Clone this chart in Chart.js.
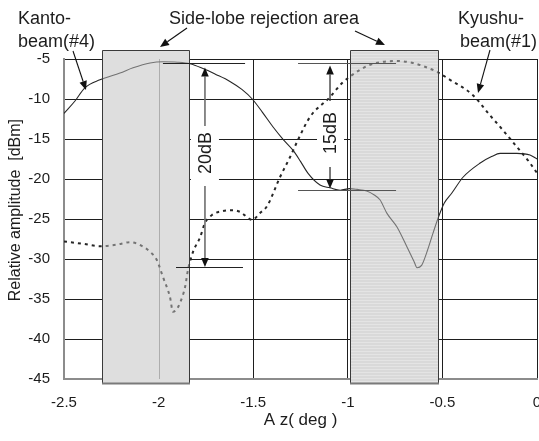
<!DOCTYPE html>
<html><head><meta charset="utf-8">
<script src="https://cdn.jsdelivr.net/npm/chart.js@4/dist/chart.umd.min.js"></script>
<style>html,body{margin:0;padding:0;background:#fff;overflow:hidden}canvas{display:block}</style>
</head><body>
<canvas id="c" width="539" height="441"></canvas>
<script>
// ---- data ----
const kantoAz = [-2.5,-2.442,-2.39,-2.31,-2.204,-2.135,-2.045,-1.977,-1.9,-1.834,-1.765,-1.7,-1.623,-1.56,-1.505,-1.45,-1.395,-1.34,-1.29,-1.25,-1.21,-1.147,-1.094,-1.04,-0.99,-0.95,-0.9,-0.86,-0.83,-0.793,-0.74,-0.687,-0.65,-0.634,-0.61,-0.58,-0.55,-0.523,-0.49,-0.45,-0.39,-0.3,-0.24,-0.195,-0.106,-0.037,0];
const kantoDb = [-11.8,-10.25,-8.6,-7.6,-6.75,-6.1,-5.5,-5.35,-5.4,-5.6,-6.2,-6.9,-7.8,-8.8,-10.0,-11.7,-13.5,-15.1,-16.4,-17.8,-19.3,-20.75,-21.1,-21.4,-21.2,-21.3,-21.5,-22.0,-22.6,-24.3,-26.0,-28.5,-30.3,-31.1,-30.8,-29.0,-26.8,-24.9,-23.0,-21.75,-19.75,-18.0,-17.2,-16.8,-16.8,-17.0,-17.5];
const kyushuAz = [-2.5,-2.4,-2.31,-2.22,-2.15,-2.098,-2.045,-2.01,-1.977,-1.94,-1.924,-1.905,-1.887,-1.86,-1.845,-1.818,-1.78,-1.755,-1.718,-1.66,-1.607,-1.57,-1.505,-1.464,-1.427,-1.358,-1.305,-1.263,-1.2,-1.094,-1.03,-0.962,-0.9,-0.83,-0.74,-0.655,-0.6,-0.53,-0.46,-0.34,-0.25,-0.18,-0.106,-0.037,0];
const kyushuDb = [-27.8,-28.1,-28.4,-28.2,-27.9,-28.25,-29.1,-30.1,-32.25,-34.75,-36.6,-36.3,-35.5,-33.5,-31.4,-29.1,-27.25,-25.5,-24.5,-24.0,-23.9,-24.1,-25.1,-24.25,-23.4,-19.75,-17.25,-15.1,-12.25,-9.75,-8.0,-6.75,-5.9,-5.4,-5.25,-5.5,-5.9,-6.6,-7.6,-9.5,-12.0,-13.9,-16.0,-18.0,-19.25];
const xTicks = [-2.5,-2,-1.5,-1,-0.5,0];
const yTicks = [-5,-10,-15,-20,-25,-30,-35,-40,-45];
const rejectionAreas = [[-2.3,-1.84],[-0.988,-0.523]];
const levels20 = [-5.44,-31.0];
const levels15 = [-5.5,-21.4];

const FONT = '"Liberation Sans", Arial, sans-serif';
const INK = '#1c1c1c';

function arrow(ctx,x1,y1,x2,y2,lineColor,headColor,lw){
  const a=Math.atan2(y2-y1,x2-x1),L=9,W=3.8;
  const bx=x2-L*Math.cos(a),by=y2-L*Math.sin(a);
  ctx.strokeStyle=lineColor;ctx.lineWidth=lw;
  ctx.beginPath();ctx.moveTo(x1,y1);ctx.lineTo(bx,by);ctx.stroke();
  ctx.fillStyle=headColor;ctx.beginPath();ctx.moveTo(x2,y2);
  ctx.lineTo(bx+W*Math.sin(a),by-W*Math.cos(a));
  ctx.lineTo(bx-W*Math.sin(a),by+W*Math.cos(a));ctx.closePath();ctx.fill();
}
function hline(ctx,x1,x2,y,color,lw){ctx.strokeStyle=color;ctx.lineWidth=lw;ctx.beginPath();ctx.moveTo(x1,y);ctx.lineTo(x2,y);ctx.stroke();}

function stripePattern(ctx){
  const p=document.createElement('canvas');p.width=4;p.height=3;
  const c=p.getContext('2d');c.fillStyle='#d6d6d6';c.fillRect(0,0,4,3);
  c.fillStyle='#e9e9e9';c.fillRect(0,0,4,1);
  return ctx.createPattern(p,'repeat');
}

function boxRects(chart){
  const {x,y}=chart.scales;
  return rejectionAreas.map(([a,b])=>{
    const l=Math.round(x.getPixelForValue(a))+0.5, r=Math.round(x.getPixelForValue(b))+0.5;
    const t=Math.round(y.getPixelForValue(-3.9))+0.5, btm=Math.round(y.getPixelForValue(-45.6));
    return {l,r,t,b:btm};
  });
}

const annot = {
  id:'annot',
  beforeDatasetsDraw(chart){
    const {ctx,scales:{x,y}}=chart;
    const rs=boxRects(chart);
    ctx.save();
    ctx.fillStyle='#dedede';ctx.fillRect(rs[0].l,rs[0].t,rs[0].r-rs[0].l,rs[0].b-rs[0].t);
    ctx.fillStyle=stripePattern(ctx);ctx.fillRect(rs[1].l,rs[1].t,rs[1].r-rs[1].l,rs[1].b-rs[1].t);
    // grey grid line through the left box
    const gx=Math.round(x.getPixelForValue(-2))+0.5;
    ctx.strokeStyle='#8a8a8a';ctx.lineWidth=1;ctx.beginPath();
    ctx.moveTo(gx,y.getPixelForValue(-5));ctx.lineTo(gx,y.getPixelForValue(-45));ctx.stroke();
    // white backgrounds behind the dB labels
    ctx.fillStyle='#fff';
    const ax20=x.getPixelForValue(-1.755), ax15=x.getPixelForValue(-1.094);
    ctx.fillRect(ax20-14,126,28,56);
    ctx.fillRect(ax15-13,108,27,50);
    ctx.restore();
  },
  afterDatasetsDraw(chart){
    const {ctx,scales:{x,y}}=chart;
    const rs=boxRects(chart);
    ctx.save();
    // lighten curves inside the boxes and outline
    rs.forEach(r=>{
      ctx.fillStyle='rgba(222,222,222,0.42)';ctx.fillRect(r.l,r.t,r.r-r.l,r.b-r.t);
      ctx.strokeStyle='#3a3a3a';ctx.lineWidth=1;
      ctx.beginPath();ctx.moveTo(r.l,r.b);ctx.lineTo(r.l,r.t);ctx.lineTo(r.r,r.t);ctx.lineTo(r.r,r.b);ctx.stroke();
      hline(ctx,r.l-0.5,r.r+0.5,r.b-0.5,'#7a7a7a',2);
    });
    // 20 dB annotation
    const ax20=x.getPixelForValue(-1.755);
    const t20=Math.round(y.getPixelForValue(levels20[0]))+0.5, b20=Math.round(y.getPixelForValue(levels20[1]))+0.5;
    hline(ctx,x.getPixelForValue(-1.977),x.getPixelForValue(-1.543),t20,'#222',1.2);
    hline(ctx,x.getPixelForValue(-1.908),x.getPixelForValue(-1.554),b20,'#222',1.2);
    arrow(ctx,ax20,126,ax20,t20+4,'#6e6e6e','#111',1.6);
    arrow(ctx,ax20,186,ax20,b20-0.5,'#6e6e6e','#111',1.6);
    // 15 dB annotation
    const ax15=x.getPixelForValue(-1.094);
    const t15=Math.round(y.getPixelForValue(levels15[0]))+0.5, b15=Math.round(y.getPixelForValue(levels15[1]))+0.5;
    hline(ctx,x.getPixelForValue(-1.263),x.getPixelForValue(-0.745),t15,'#555',1.2);
    hline(ctx,x.getPixelForValue(-1.263),x.getPixelForValue(-0.745),b15,'#555',1.2);
    arrow(ctx,ax15,101,ax15,t15+2,'#333','#111',1.3);
    arrow(ctx,ax15,167,ax15,b15-2,'#333','#111',1.3);
    // rotated dB texts
    ctx.fillStyle=INK;ctx.font='18px '+FONT;ctx.textAlign='center';ctx.textBaseline='middle';
    [[ax20,153,'20dB'],[ax15,133,'15dB']].forEach(([px,py,s])=>{
      ctx.save();ctx.translate(px+1,py);ctx.rotate(-Math.PI/2);ctx.fillText(s,0,0);ctx.restore();
    });
    // callout texts
    ctx.textBaseline='alphabetic';ctx.textAlign='left';
    ctx.fillText('Kanto-',18,24);ctx.fillText('beam(#4)',18,47);
    ctx.fillText('Kyushu-',458,24);ctx.fillText('beam(#1)',460,47);
    ctx.textAlign='center';ctx.fillText('Side-lobe rejection area',264,24);
    // callout arrows
    arrow(ctx,73,51,86,90,'#111','#111',1.1);
    arrow(ctx,187,28,160,47,'#111','#111',1.1);
    arrow(ctx,355,31,385,45,'#111','#111',1.1);
    arrow(ctx,490,50,478,93,'#111','#111',1.1);
    ctx.restore();
  }
};

new Chart(document.getElementById('c'),{
  type:'line',
  data:{datasets:[
    {label:'Kanto-beam(#4)',data:kantoAz.map((a,i)=>({x:a,y:kantoDb[i]})),borderColor:'#262626',borderWidth:1.1,pointRadius:0,cubicInterpolationMode:'monotone',fill:false},
    {label:'Kyushu-beam(#1)',data:kyushuAz.map((a,i)=>({x:a,y:kyushuDb[i]})),borderColor:'#262626',borderWidth:2,borderDash:[3,4],pointRadius:0,cubicInterpolationMode:'monotone',fill:false}
  ]},
  options:{
    responsive:false,animation:false,devicePixelRatio:1,
    layout:{padding:{top:59,right:2,left:0,bottom:0}},
    plugins:{legend:{display:false},tooltip:{enabled:false}},
    scales:{
      x:{type:'linear',min:-2.5,max:0,
        afterBuildTicks:s=>{s.ticks=xTicks.map(v=>({value:v}));},
        ticks:{callback:v=>String(v),padding:15,font:{family:FONT,size:15},color:INK,maxRotation:0,autoSkip:false},
        grid:{color:'#1e1e1e',lineWidth:1,drawTicks:false},
        border:{color:'#8c8c8c',width:2},
        title:{display:true,text:'A z( deg )',font:{family:FONT,size:17},color:INK,padding:{top:0,bottom:10}},
        afterFit:s=>{s.height=62;s.paddingLeft=0;s.paddingRight=0;}
      },
      y:{type:'linear',min:-45,max:-5,
        afterBuildTicks:s=>{s.ticks=yTicks.map(v=>({value:v}));},
        ticks:{callback:v=>String(v),padding:14,font:{family:FONT,size:15},color:INK},
        grid:{color:'#1e1e1e',lineWidth:1,drawTicks:false},
        border:{color:'#8c8c8c',width:2},
        title:{display:true,text:'    Relative amplitude  [dBm]',font:{family:FONT,size:16},color:INK,padding:{top:6,bottom:0}},
        afterFit:s=>{s.width=64;s.paddingTop=0;s.paddingBottom=0;}
      }
    }
  },
  plugins:[annot]
});
</script>
</body></html>
